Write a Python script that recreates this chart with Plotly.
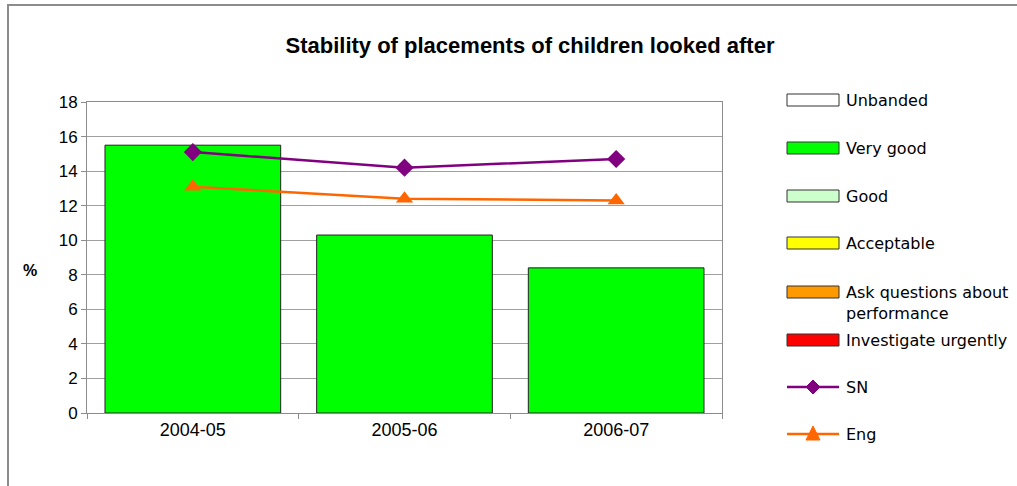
import plotly.graph_objects as go

# ---------------------------------------------------------------------------
# Data
# ---------------------------------------------------------------------------
years = ["2004-05", "2005-06", "2006-07"]
very_good = [15.5, 10.3, 8.4]
sn = [15.1, 14.2, 14.7]
eng = [13.1, 12.4, 12.3]

band_names = ["Unbanded", "Very good", "Good", "Acceptable",
              "Ask questions about<br>performance", "Investigate urgently"]
band_colors = ["#FFFFFF", "#00FF00", "#CCFFCC", "#FFFF00", "#FF9900", "#FF0000"]

SN_COLOR = "#800080"
ENG_COLOR = "#FF6600"

W, H = 1017, 486
L, T = 87, 102
PW, PH = 635, 311
R, B = W - L - PW, H - T - PH


def px(x):
    # window pixel -> paper x
    return (x - L) / PW


def py(y):
    # window pixel -> paper y
    return (T + PH - y) / PH


fig = go.Figure()

fig.add_trace(go.Bar(
    x=years, y=very_good, name="Very good",
    marker=dict(color="#00FF00", line=dict(color="#222222", width=1)),
))
fig.add_trace(go.Scatter(
    x=years, y=sn, name="SN", mode="lines+markers",
    line=dict(color=SN_COLOR, width=2.5),
    marker=dict(symbol="diamond", size=14, color=SN_COLOR),
))
fig.add_trace(go.Scatter(
    x=years, y=eng, name="Eng", mode="lines+markers",
    line=dict(color=ENG_COLOR, width=2.5),
    marker=dict(symbol="triangle-up", size=15, color=ENG_COLOR),
))

# ---------------------------------------------------------------------------
# Hand-drawn legend (Excel style, wide swatches)
# ---------------------------------------------------------------------------
LEG_FONT = dict(family="Tahoma, DejaVu Sans", size=16, color="#000")
shapes = []
annotations = []
sw_x0, sw_x1, txt_x = 787, 839, 844
row_y = [100, 148, 196, 243, 292, 340, 387, 434]

for name, color, y in zip(band_names, band_colors, row_y):
    shapes.append(dict(type="rect", xref="paper", yref="paper",
                       x0=px(sw_x0), x1=px(sw_x1), y0=py(y + 6), y1=py(y - 6),
                       fillcolor=color, line=dict(color="#333333", width=1)))
    ty = y + 11 if "<br>" in name else y
    annotations.append(dict(text=name, xref="paper", yref="paper",
                            x=px(txt_x), y=py(ty), xanchor="left", yanchor="middle",
                            align="left", showarrow=False, font=LEG_FONT))

for name, color, y, marker in [("SN", SN_COLOR, row_y[6], "diamond"),
                               ("Eng", ENG_COLOR, row_y[7], "triangle")]:
    shapes.append(dict(type="line", xref="paper", yref="paper",
                       x0=px(sw_x0), x1=px(sw_x1), y0=py(y), y1=py(y),
                       line=dict(color=color, width=2.5)))
    cx = (sw_x0 + sw_x1) / 2
    if marker == "diamond":
        pts = [(cx, y - 7), (cx + 7, y), (cx, y + 7), (cx - 7, y)]
    else:
        pts = [(cx, y - 8), (cx + 7, y + 6), (cx - 7, y + 6)]
    path = "M " + " L ".join(f"{px(a)},{py(b)}" for a, b in pts) + " Z"
    shapes.append(dict(type="path", xref="paper", yref="paper", path=path,
                       fillcolor=color, line=dict(color=color, width=1)))
    annotations.append(dict(text=name, xref="paper", yref="paper",
                            x=px(txt_x), y=py(y), xanchor="left", yanchor="middle",
                            showarrow=False, font=LEG_FONT))

# outer chart border
shapes.append(dict(type="rect", xref="paper", yref="paper",
                   x0=px(8), x1=px(1040), y0=py(500), y1=py(5),
                   line=dict(color="#8C8C8C", width=2), layer="below"))

annotations.append(dict(text="<b>%</b>", xref="paper", yref="paper",
                        x=px(30), y=py(270), xanchor="center", yanchor="middle",
                        showarrow=False,
                        font=dict(family="Arial, Liberation Sans", size=16, color="#000")))

fig.update_layout(
    width=W, height=H,
    margin=dict(l=L, r=R, t=T, b=B),
    paper_bgcolor="white", plot_bgcolor="white",
    title=dict(text="<b>Stability of placements of children looked after</b>",
               x=530 / W, xanchor="center", xref="container",
               y=1 - 45 / H, yanchor="middle", yref="container",
               font=dict(family="Arial, Liberation Sans", size=22, color="#000")),
    font=dict(family="Arial, Liberation Sans", size=17, color="#000"),
    bargap=0.17,
    shapes=shapes,
    annotations=annotations,
    showlegend=False,
)

fig.update_xaxes(type="category", showline=True, linecolor="#8C8C8C", linewidth=1, mirror=True,
                 ticks="outside", tickson="boundaries", ticklen=5, tickcolor="#8C8C8C",
                 showgrid=False, tickfont=dict(size=18))
fig.update_yaxes(range=[0, 18], dtick=2, showline=True, linecolor="#8C8C8C", linewidth=1,
                 mirror=True, ticks="outside", ticklen=5, tickcolor="#8C8C8C",
                 showgrid=True, gridcolor="#A0A0A0", gridwidth=1, zeroline=False,
                 tickfont=dict(size=17))

# drop the default body margin so the figure sits at the window's top-left corner
fig.write_html("out.html", config={"displayModeBar": False},
               post_script="document.body.style.margin = '0px';")
